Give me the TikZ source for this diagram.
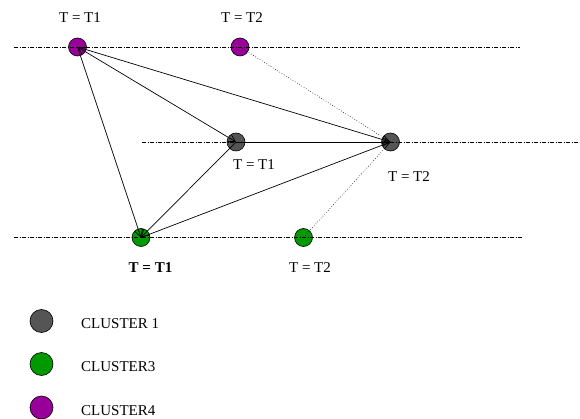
\documentclass[tikz,border=0pt]{standalone}
\usepackage{fontspec}
\setmainfont{Liberation Serif}
\usetikzlibrary{arrows.meta}
\definecolor{cpurple}{HTML}{990099}
\definecolor{cgreen}{HTML}{009900}
\definecolor{cgray}{HTML}{555555}
\begin{document}
\begin{tikzpicture}[x=1pt,y=-1pt,
  dot/.style={circle,draw=black,line width=0.6pt,minimum size=18pt,inner sep=0pt},
  legdot/.style={circle,draw=black,line width=0.6pt,minimum size=23pt,inner sep=0pt},
  axisline/.style={line width=0.5pt,dash pattern=on 4pt off 1.5pt on 1pt off 1.5pt},
  edge/.style={line width=0.7pt,-{Straight Barb[length=7pt,width=8pt]}},
  dedge/.style={line width=0.7pt,{Straight Barb[length=7pt,width=8pt]}-{Straight Barb[length=7pt,width=8pt]}},
  dotedge/.style={line width=0.6pt,dotted},
  lbl/.style={font=\fontsize{15}{18}\selectfont,inner sep=0pt},
  every node/.style={font=\fontsize{15}{18}\selectfont}]
\useasboundingbox (0,0) rectangle (580,419);
% nodes
\node[dot,fill=cpurple] (p1) at (77.5,47) {};
\node[dot,fill=cpurple] (p2) at (240,47) {};
\node[dot,fill=cgray] (g1) at (236,142) {};
\node[dot,fill=cgray] (g2) at (390.5,142) {};
\node[dot,fill=cgreen] (c1) at (141,237.5) {};
\node[dot,fill=cgreen] (c2) at (303.5,237.5) {};
% axis lines
\coordinate (a1) at (14,47);
\coordinate (a2) at (520,47);
\coordinate (b1) at (142,142);
\coordinate (b2) at (580,142);
\coordinate (d1) at (14,237.5);
\coordinate (d2) at (522,237.5);
\draw[axisline] (a1) -- (a2);
\draw[axisline] (b1) -- (b2);
\draw[axisline] (d1) -- (d2);
% edges
\draw[dedge] (p1.center) -- (g1.center);
\draw[edge] (p1.center) -- (g2.center);
\draw[edge] (g1.center) -- (g2.center);
\draw[edge] (c1.center) -- (g2.center);
\draw[edge] (g1.center) -- (c1.center);
\draw[edge] (p1.center) -- (c1.center);
\draw[dotedge] (p2.center) -- (g2.center);
\draw[dotedge] (c2.center) -- (g2.center);
% labels
\node[lbl] (l1) at (80,18) {T = T1};
\node[lbl] (l2) at (242,18) {T = T2};
\node[lbl] (l3) at (254,164.5) {T = T1};
\node[lbl] (l4) at (409,177) {T = T2};
\node[lbl] (l5) at (150.5,268) {\bfseries T = T1};
\node[lbl] (l6) at (310,268) {T = T2};
% legend
\node[legdot,fill=cgray] (k1) at (41.5,321) {};
\node[legdot,fill=cgreen] (k2) at (41.5,364) {};
\node[legdot,fill=cpurple] (k3) at (41.5,407.5) {};
\node[lbl,anchor=west] (t1) at (81,324) {CLUSTER 1};
\node[lbl,anchor=west] (t2) at (81,367) {CLUSTER3};
\node[lbl,anchor=west] (t3) at (81,410.5) {CLUSTER4};
\end{tikzpicture}
\end{document}
